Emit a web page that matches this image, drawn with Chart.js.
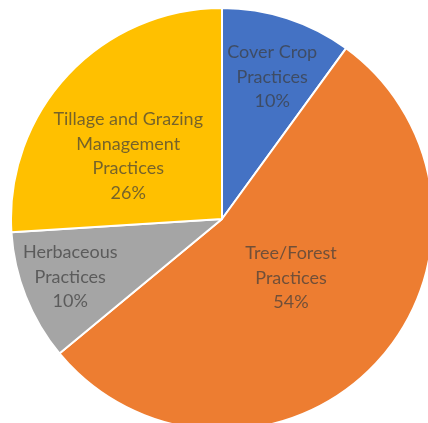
<!DOCTYPE html>
<html lang="en">
<head>
  <meta charset="UTF-8" />
  <title>Practices share</title>
  <script src="https://cdn.jsdelivr.net/npm/chart.js"></script>
  <style>
    html, body { margin: 0; padding: 0; background: #fff; overflow: hidden; width: 428px; height: 423px; }
    #pie { position: absolute; left: 10px; top: 7px; }
  </style>
</head>
<body>
  <canvas id="pie" width="424" height="424"></canvas>

  <script>
    // slices, clockwise from 12 o'clock
    const categories = [
      ['Cover Crop', 'Practices'],
      ['Tree/Forest', 'Practices'],
      ['Herbaceous', 'Practices'],
      ['Tillage and Grazing', 'Management', 'Practices']
    ];
    const shares = [10, 54, 10, 26];
    const sliceColors = ['#4472C4', '#ED7D31', '#A5A5A5', '#FFC000'];

    // draws the in-slice labels (name lines + percent)
    const sliceLabels = {
      id: 'sliceLabels',
      afterDatasetsDraw(chart, args, opts) {
        const ctx = chart.ctx;
        const arcs = chart.getDatasetMeta(0).data;
        ctx.save();
        ctx.font = opts.font;
        ctx.fillStyle = opts.color;
        ctx.textAlign = 'center';
        ctx.textBaseline = 'middle';
        arcs.forEach((arc, i) => {
          // spot inside the slice: fraction along the sweep, fraction of radius
          const a = arc.startAngle + (arc.endAngle - arc.startAngle) * opts.along[i];
          const r = arc.outerRadius * opts.dist[i];
          const cx = arc.x + Math.cos(a) * r;
          const cy = arc.y + Math.sin(a) * r;
          const lines = categories[i].concat(shares[i] + '%');
          const top = cy - (lines.length - 1) * opts.lineHeight / 2;
          lines.forEach((t, j) => ctx.fillText(t, cx, top + j * opts.lineHeight));
        });
        ctx.restore();
      }
    };

    new Chart(document.getElementById('pie'), {
      type: 'pie',
      data: {
        labels: categories.map(c => c.join(' ')),
        datasets: [{
          data: shares,
          backgroundColor: sliceColors,
          borderColor: '#ffffff',
          borderWidth: 2
        }]
      },
      options: {
        responsive: false,
        animation: false,
        radius: 211,
        layout: { padding: 0 },
        plugins: {
          legend: { display: false },
          tooltip: { enabled: false },
          sliceLabels: {
            font: '18px Lato',
            color: 'rgba(60,60,60,0.7)',
            lineHeight: 24.5,
            along: [0.54, 0.486, 0.52, 0.40],
            dist: [0.715, 0.43, 0.77, 0.535]
          }
        }
      },
      plugins: [sliceLabels]
    });
  </script>
</body>
</html>
